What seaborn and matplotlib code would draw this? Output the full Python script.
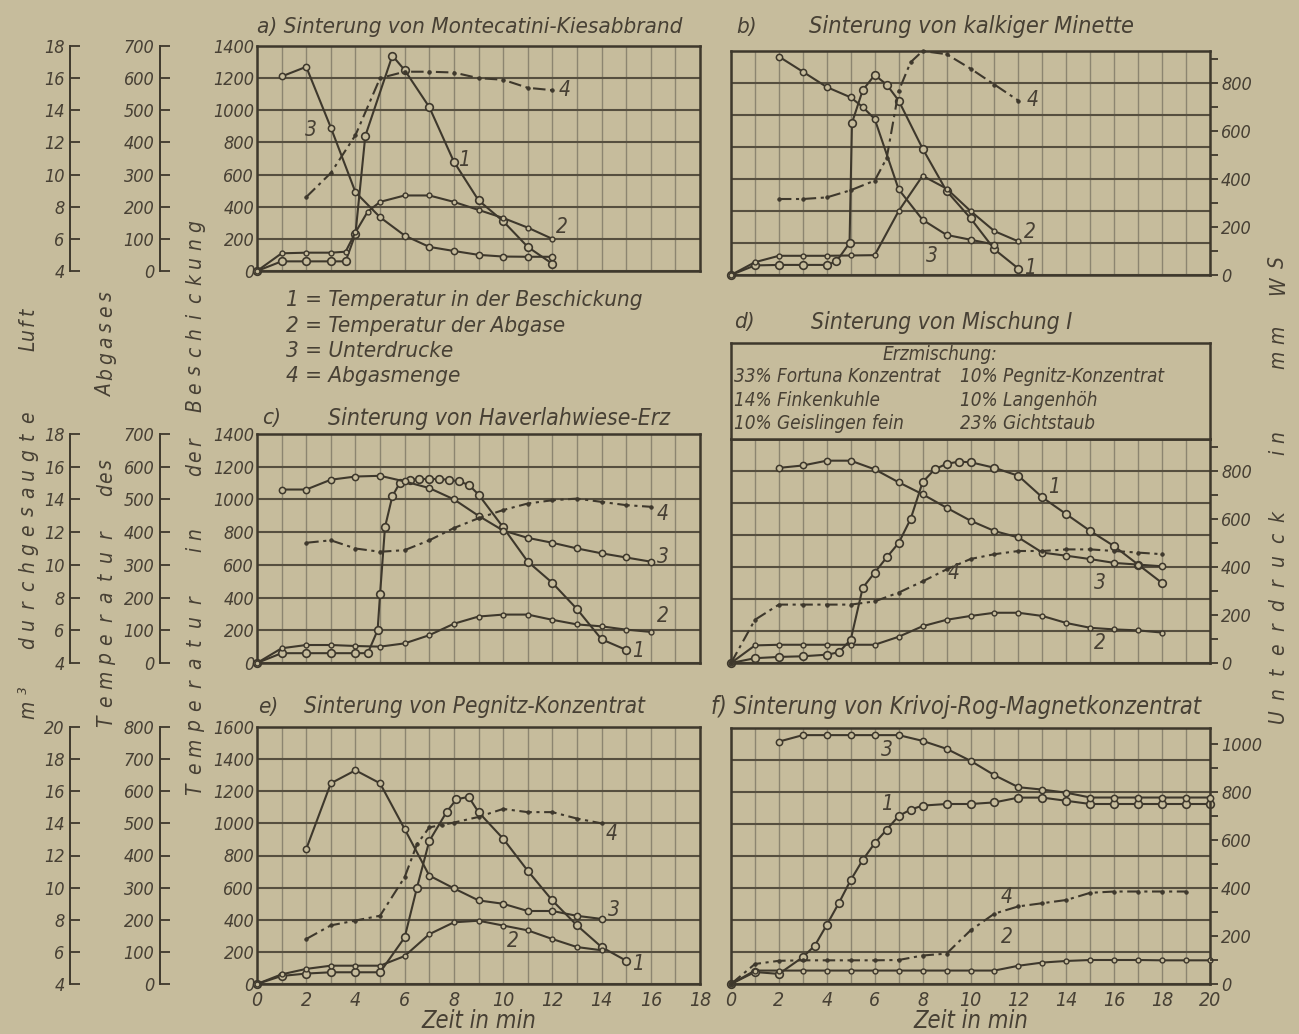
import matplotlib
matplotlib.use("Agg")
import matplotlib.pyplot as plt
import seaborn as sns
from matplotlib import font_manager
from matplotlib.ticker import MultipleLocator

# ---------------- Daten ----------------
# 1 = Temperatur in der Beschickung (°C), 2 = Temperatur der Abgase (°C)
# 3 = Unterdruck (mm WS), 4 = Abgasmenge (m3 durchgesaugte Luft)

# a) Montecatini-Kiesabbrand
a_zeit1 = [0, 1, 2, 3, 3.6, 4, 4.4, 5.5, 6, 7, 8, 9, 10, 11, 12]
a_beschickung = [0, 60, 60, 60, 60, 230, 840, 1340, 1250, 1020, 680, 440, 310, 150, 45]
a_zeit2 = [0, 1, 2, 3, 3.6, 4, 4.5, 5, 6, 7, 8, 9, 10, 11, 12]
a_abgas = [0, 55, 57, 57, 60, 120, 185, 215, 235, 235, 215, 190, 165, 135, 100]
a_zeit3 = [1, 2, 3, 4, 5, 6, 7, 8, 9, 10, 11, 12]
a_unterdruck = [807, 847, 595, 327, 223, 147, 100, 83, 67, 60, 59, 59]
a_zeit4 = [2, 3, 4, 5, 6, 7, 8, 9, 10, 11, 12]
a_luft = [8.6, 10.1, 12.45, 16.0, 16.4, 16.4, 16.35, 16.0, 15.9, 15.4, 15.25]

# b) kalkige Minette
b_zeit1 = [0, 1, 2, 3, 4, 4.4, 4.95, 5.05, 5.5, 6, 6.5, 7, 8, 9, 10, 11, 12]
b_beschickung = [0, 60, 63, 63, 63, 85, 200, 950, 1155, 1250, 1190, 1090, 790, 525, 355, 160, 40]
b_zeit2 = [0, 1, 2, 3, 4, 5, 6, 7, 8, 9, 10, 11, 12]
b_abgas = [0, 40, 60, 60, 60, 61, 62, 200, 310, 270, 200, 137, 105]
b_zeit3 = [2, 3, 4, 5, 5.5, 6, 7, 8, 9, 10, 11]
b_unterdruck = [910, 847, 783, 740, 700, 650, 357, 230, 167, 147, 127]
b_zeit4 = [2, 3, 4, 5, 6, 6.5, 7, 7.5, 8, 9, 10, 11, 12]
b_luft = [8.75, 8.75, 8.85, 9.3, 9.9, 11.3, 15.5, 17.3, 18.0, 17.8, 16.9, 15.9, 14.9]

# c) Haverlahwiese-Erz
c_zeit1 = [0, 1, 2, 3, 4, 4.5, 4.9, 5.0, 5.2, 5.5, 5.8, 6.2, 6.6, 7.0, 7.4, 7.8, 8.2, 8.6, 9, 10, 11, 12, 13, 14, 15]
c_beschickung = [0, 60, 60, 60, 60, 60, 200, 420, 830, 1020, 1100, 1120, 1125, 1125, 1125, 1120, 1110, 1090,
                 1030, 830, 620, 490, 330, 145, 80]
c_zeit2 = [0, 1, 2, 3, 4, 5, 6, 7, 8, 9, 10, 11, 12, 13, 14, 15, 16]
c_abgas = [0, 45, 55, 55, 52, 50, 60, 85, 120, 142, 148, 148, 132, 118, 112, 102, 95]
c_zeit3 = [1, 2, 3, 4, 5, 6, 7, 8, 9, 10, 11, 12, 13, 14, 15, 16]
c_unterdruck = [707, 707, 747, 760, 763, 740, 713, 667, 600, 540, 510, 490, 467, 447, 430, 413]
c_zeit4 = [2, 3, 4, 5, 6, 7, 8, 9, 10, 11, 12, 13, 14, 15, 16]
c_luft = [11.35, 11.5, 11.0, 10.8, 10.9, 11.5, 12.25, 12.85, 13.35, 13.75, 13.95, 14.05, 13.85, 13.65, 13.55]

# d) Mischung I
d_zeit1 = [0, 1, 2, 3, 4, 4.5, 5, 5.5, 6, 6.5, 7, 7.5, 8, 8.5, 9, 9.5, 10, 11, 12, 13, 14, 15, 16, 17, 18]
d_beschickung = [0, 30, 38, 42, 52, 67, 146, 470, 565, 660, 750, 900, 1130, 1210, 1245, 1258, 1255, 1220,
                 1170, 1035, 930, 825, 730, 615, 500]
d_zeit2 = [0, 1, 2, 3, 4, 5, 6, 7, 8, 9, 10, 11, 12, 13, 14, 15, 16, 17, 18]
d_abgas = [0, 55, 57, 57, 57, 57, 57, 82, 115, 135, 147, 157, 157, 147, 125, 110, 105, 102, 95]
d_zeit3 = [2, 3, 4, 5, 6, 7, 8, 9, 10, 11, 12, 13, 14, 15, 16, 17, 18]
d_unterdruck = [813, 823, 843, 843, 807, 753, 703, 647, 593, 550, 523, 460, 447, 433, 417, 410, 403]
d_zeit4 = [0, 1, 2, 3, 4, 5, 6, 7, 8, 9, 10, 11, 12, 13, 14, 15, 16, 17, 18]
d_luft = [4, 6.7, 7.65, 7.65, 7.65, 7.65, 7.85, 8.4, 9.1, 9.85, 10.5, 10.8, 11.0, 11.0, 11.1, 11.1, 11.0, 10.9, 10.8]

# e) Pegnitz-Konzentrat
e_zeit1 = [0, 1, 2, 3, 4, 5, 6, 6.5, 7, 7.7, 8.1, 8.6, 9, 10, 11, 12, 13, 14, 15]
e_beschickung = [0, 50, 65, 73, 73, 73, 290, 600, 890, 1070, 1150, 1165, 1070, 905, 705, 520, 365, 230, 145]
e_zeit2 = [0, 1, 2, 3, 4, 5, 6, 7, 8, 9, 10, 11, 12, 13, 14]
e_abgas = [0, 30, 47, 57, 57, 57, 87, 155, 192, 197, 182, 167, 140, 115, 105]
e_zeit3 = [2, 3, 4, 5, 6, 7, 8, 9, 10, 11, 12, 13, 14]
e_unterdruck = [560, 833, 887, 833, 643, 450, 397, 347, 333, 303, 303, 283, 270]
e_zeit4 = [2, 3, 4, 5, 6, 6.5, 7, 7.5, 8, 9, 10, 11, 12, 13, 14]
e_luft = [6.8, 7.65, 7.95, 8.25, 10.65, 12.7, 13.75, 13.9, 14.05, 14.4, 14.9, 14.7, 14.7, 14.3, 14.0]

# f) Krivoj-Rog-Magnetkonzentrat
f_zeit1 = [0, 1, 2, 3, 3.5, 4, 4.5, 5, 5.5, 6, 6.5, 7, 7.5, 8, 9, 10, 11, 12, 13, 14, 15, 16, 17, 18, 19, 20]
f_beschickung = [0, 75, 63, 168, 240, 370, 505, 650, 775, 880, 965, 1050, 1090, 1115, 1125, 1125, 1135, 1165,
                 1165, 1145, 1125, 1125, 1125, 1125, 1125, 1125]
f_zeit2 = [0, 1, 2, 3, 4, 5, 6, 7, 8, 9, 10, 11, 12, 13, 14, 15, 16, 17, 18, 19, 20]
f_abgas = [0, 42, 42, 42, 42, 42, 42, 42, 42, 42, 42, 42, 57, 67, 72, 75, 75, 75, 74, 74, 74]
f_zeit3 = [2, 3, 4, 5, 6, 7, 8, 9, 10, 11, 12, 13, 14, 15, 16, 17, 18, 19, 20]
f_unterdruck = [1010, 1037, 1037, 1037, 1037, 1037, 1013, 980, 930, 870, 820, 810, 797, 777, 777, 777, 777, 777, 777]
f_zeit4 = [0, 1, 2, 3, 4, 5, 6, 7, 8, 9, 10, 11, 12, 13, 14, 15, 16, 17, 18, 19]
f_luft = [4, 5.25, 5.45, 5.48, 5.48, 5.48, 5.48, 5.5, 5.78, 5.9, 7.35, 8.4, 8.85, 9.05, 9.25, 9.7, 9.78, 9.78, 9.78, 9.78]

legende = ["1 = Temperatur in der Beschickung", "2 = Temperatur der Abgase",
           "3 = Unterdrucke", "4 = Abgasmenge"]
erzmischung = [("33% Fortuna Konzentrat", "10% Pegnitz-Konzentrat"),
               ("14% Finkenkuhle", "10% Langenhöh"),
               ("10% Geislingen fein", "23% Gichtstaub")]

# ---------------- Stil ----------------
sns.set_theme(style="white")
names = {f.name for f in font_manager.fontManager.ttflist}
fams = [n for n in ["Liberation Sans Narrow", "DejaVu Sans"] if n in names] or ["DejaVu Sans"]
plt.rcParams["font.family"] = fams
plt.rcParams["font.style"] = "italic"
plt.rcParams["font.stretch"] = "condensed"

BG = "#c6bc9c"
INK = "#3e382c"
TXT = "#474034"
GRID_H = "#564f3f"
GRID_V = "#8c8570"

W, H = 1299, 1034
fig = plt.figure(figsize=(W / 100, H / 100), dpi=100, facecolor=BG)
rend = fig.canvas.get_renderer()


def rect(x0, x1, y0, y1):
    return [x0 / W, 1 - y1 / H, (x1 - x0) / W, (y1 - y0) / H]


def ftext(x, y, s, width=None, **kw):
    # Text in Pixelkoordinaten; mit width wird die Schriftgroesse auf die Breite gebracht
    kw.setdefault("color", TXT)
    kw.setdefault("va", "center")
    t = fig.text(x / W, 1 - y / H, s, **kw)
    if width:
        w = t.get_window_extent(rend).width
        t.set_fontsize(t.get_fontsize() * width / w)
    return t


STYLE = {
    1: dict(marker="o", markersize=5.5, markerfacecolor=BG, markeredgewidth=1.2, linestyle="-"),
    2: dict(marker="o", markersize=3.5, markerfacecolor=BG, markeredgewidth=1.0, linestyle="-"),
    3: dict(marker="o", markersize=4.5, markerfacecolor=BG, markeredgewidth=1.1, linestyle="-"),
    4: dict(marker="o", markersize=2.6, markerfacecolor=INK, markeredgewidth=0.5, linestyle=(0, (6, 2.2, 1.5, 2.2))),
}


def panel(box, xmax, tmax, left, data, nums, xlab):
    ax = fig.add_axes(box)
    ax.set_facecolor(BG)
    tw = {2: ax.twinx(), 3: ax.twinx(), 4: ax.twinx()}
    target = {1: ax, 2: tw[2], 3: tw[3], 4: tw[4]}
    for k, (xs, ys) in data.items():
        sns.lineplot(x=xs, y=ys, ax=target[k], color=INK, linewidth=1.5, sort=False,
                     estimator=None, markeredgecolor=INK, clip_on=False, **STYLE[k])
    ax.set_xlim(0, xmax)
    ax.set_ylim(0, tmax)
    tw[2].set_ylim(0, tmax / 2)
    tw[3].set_ylim(0, tmax / 1.5)
    tw[4].set_ylim(4, 4 + tmax / 100)
    for t in tw.values():
        t.set_xlim(0, xmax)
        for sp in t.spines.values():
            sp.set_visible(False)
        t.tick_params(axis="y", which="both", left=False, right=False, labelleft=False, labelright=False)
        t.set_ylabel("")

    ax.xaxis.set_major_locator(MultipleLocator(2))
    ax.xaxis.set_minor_locator(MultipleLocator(1))
    ax.yaxis.set_major_locator(MultipleLocator(200))
    ax.grid(axis="x", which="both", color=GRID_V, lw=1.0)
    ax.grid(axis="y", which="major", color=GRID_H, lw=1.5)
    ax.set_axisbelow(True)
    for sp in ax.spines.values():
        sp.set_visible(True)
        sp.set_color(INK)
        sp.set_linewidth(1.8)
    ax.tick_params(which="both", length=0, labelsize=13, labelcolor=TXT,
                   labelbottom=xlab, labelleft=left, pad=2)
    ax.set_ylabel("")
    if xlab:
        ax.tick_params(axis="x", pad=5, labelsize=14)
        ax.set_xlabel("Zeit in min", fontsize=17, color=TXT, labelpad=-1)
    else:
        ax.set_xlabel("")

    if left:
        for k, off, step in [(2, -0.219, 100), (4, -0.422, 2)]:
            t = tw[k]
            t.spines["left"].set_visible(True)
            t.spines["left"].set_position(("axes", off))
            t.spines["left"].set_color(INK)
            t.spines["left"].set_linewidth(1.4)
            t.yaxis.set_ticks_position("left")
            t.yaxis.set_major_locator(MultipleLocator(step))
            t.tick_params(axis="y", which="major", left=True, labelleft=True, direction="in",
                          length=7, width=1.3, color=INK, labelsize=13, labelcolor=TXT, pad=4)
    else:
        t = tw[3]
        t.yaxis.set_major_locator(MultipleLocator(200))
        t.yaxis.set_minor_locator(MultipleLocator(100))
        t.tick_params(axis="y", which="both", right=True, direction="out", length=6,
                      width=1.3, color=INK)
        t.tick_params(axis="y", which="major", labelright=True, labelsize=13, labelcolor=TXT, pad=2)

    for s, x, y in nums:
        ax.text(x, y, s, fontsize=15, color=TXT, ha="center", va="center")
    return ax


L0, L1 = 257, 700
R0, R1 = 731, 1210

panel(rect(L0, L1, 46, 271), 18, 1400, True,
      {1: (a_zeit1, a_beschickung), 2: (a_zeit2, a_abgas), 3: (a_zeit3, a_unterdruck), 4: (a_zeit4, a_luft)},
      [("3", 2.2, 880), ("1", 8.4, 690), ("2", 12.4, 275), ("4", 12.5, 1125)], False)
panel(rect(R0, R1, 51, 275), 20, 1400, False,
      {1: (b_zeit1, b_beschickung), 2: (b_zeit2, b_abgas), 3: (b_zeit3, b_unterdruck), 4: (b_zeit4, b_luft)},
      [("4", 12.6, 1095), ("2", 12.5, 270), ("1", 12.5, 45), ("3", 8.4, 120)], False)
panel(rect(L0, L1, 434, 663), 18, 1400, True,
      {1: (c_zeit1, c_beschickung), 2: (c_zeit2, c_abgas), 3: (c_zeit3, c_unterdruck), 4: (c_zeit4, c_luft)},
      [("4", 16.5, 910), ("3", 16.5, 650), ("2", 16.5, 290), ("1", 15.5, 75)], False)
panel(rect(R0, R1, 439, 663), 20, 1400, False,
      {1: (d_zeit1, d_beschickung), 2: (d_zeit2, d_abgas), 3: (d_zeit3, d_unterdruck), 4: (d_zeit4, d_luft)},
      [("1", 13.5, 1100), ("4", 9.3, 565), ("3", 15.4, 500), ("2", 15.4, 125)], False)
panel(rect(L0, L1, 727, 984), 18, 1600, True,
      {1: (e_zeit1, e_beschickung), 2: (e_zeit2, e_abgas), 3: (e_zeit3, e_unterdruck), 4: (e_zeit4, e_luft)},
      [("4", 14.4, 935), ("3", 14.5, 460), ("2", 10.4, 270), ("1", 15.5, 125)], True)
panel(rect(R0, R1, 728, 984), 20, 1600, False,
      {1: (f_zeit1, f_beschickung), 2: (f_zeit2, f_abgas), 3: (f_zeit3, f_unterdruck), 4: (f_zeit4, f_luft)},
      [("3", 6.5, 1460), ("1", 6.5, 1125), ("4", 11.5, 545), ("2", 11.5, 295)], True)

# Kasten mit der Erzmischung ueber Bild d
bx = fig.add_axes(rect(R0, R1, 343, 439))
bx.set_facecolor(BG)
bx.set_xticks([])
bx.set_yticks([])
for sp in bx.spines.values():
    sp.set_visible(True)
    sp.set_color(INK)
    sp.set_linewidth(1.8)
t0 = ftext(734, 377, erzmischung[0][0], width=208, ha="left", fontsize=14)
efs = t0.get_fontsize()
ftext(940, 355, "Erzmischung:", fontsize=efs, ha="center")
for i, (l, r) in enumerate(erzmischung):
    if i:
        ftext(734, 377 + i * 23, l, fontsize=efs, ha="left")
    ftext(960, 377 + i * 23, r, fontsize=efs, ha="left")

# Titel
TS = 17
ta = ftext(257, 27, "a) Sinterung von Montecatini-Kiesabbrand", width=426, fontsize=TS)
TS = ta.get_fontsize()
ftext(736, 27, "b)", fontsize=TS)
ftext(809, 27, "Sinterung von kalkiger Minette", width=324, fontsize=TS)
ftext(262, 418, "c)", fontsize=TS)
ftext(328, 418, "Sinterung von Haverlahwiese-Erz", width=342, fontsize=TS)
ftext(734, 322, "d)", fontsize=TS)
ftext(811, 322, "Sinterung von Mischung I", width=261, fontsize=TS)
ftext(258, 707, "e)", fontsize=TS)
ftext(304, 707, "Sinterung von Pegnitz-Konzentrat", width=341, fontsize=TS)
ftext(711, 707, "f) Sinterung von Krivoj-Rog-Magnetkonzentrat", width=489, fontsize=TS)

# Legende
t1 = ftext(286, 300, legende[0], width=359, fontsize=16)
for i, s in enumerate(legende[1:], start=1):
    ftext(286, 300 + i * 25.5, s, fontsize=t1.get_fontsize())


# gesperrte senkrechte Achsentitel: jeder Buchstabe einzeln von unten nach oben
def sperr(x, word, ytop, ybot, fs=15):
    n = len(word)
    step = (ybot - ytop) / n
    for i, ch in enumerate(word):
        ftext(x, ybot - (i + 0.5) * step, ch, fontsize=fs, rotation=90, ha="center")


for x, words in [
    (28, [("Luft", 305, 352), ("durchgesaugte", 408, 652), ("m³", 680, 720)]),
    (106, [("Abgases", 288, 397), ("des", 457, 497), ("Temperatur", 525, 732)]),
    (195, [("Beschickung", 217, 415), ("der", 435, 477), ("in", 527, 557), ("Temperatur", 590, 800)]),
    (1278, [("WS", 250, 297), ("mm", 322, 372), ("in", 430, 460), ("Unterdruck", 505, 727)]),
]:
    for w, y0, y1 in words:
        sperr(x, w, y0, y1)

fig.savefig("out.png", dpi=100, facecolor=BG)
